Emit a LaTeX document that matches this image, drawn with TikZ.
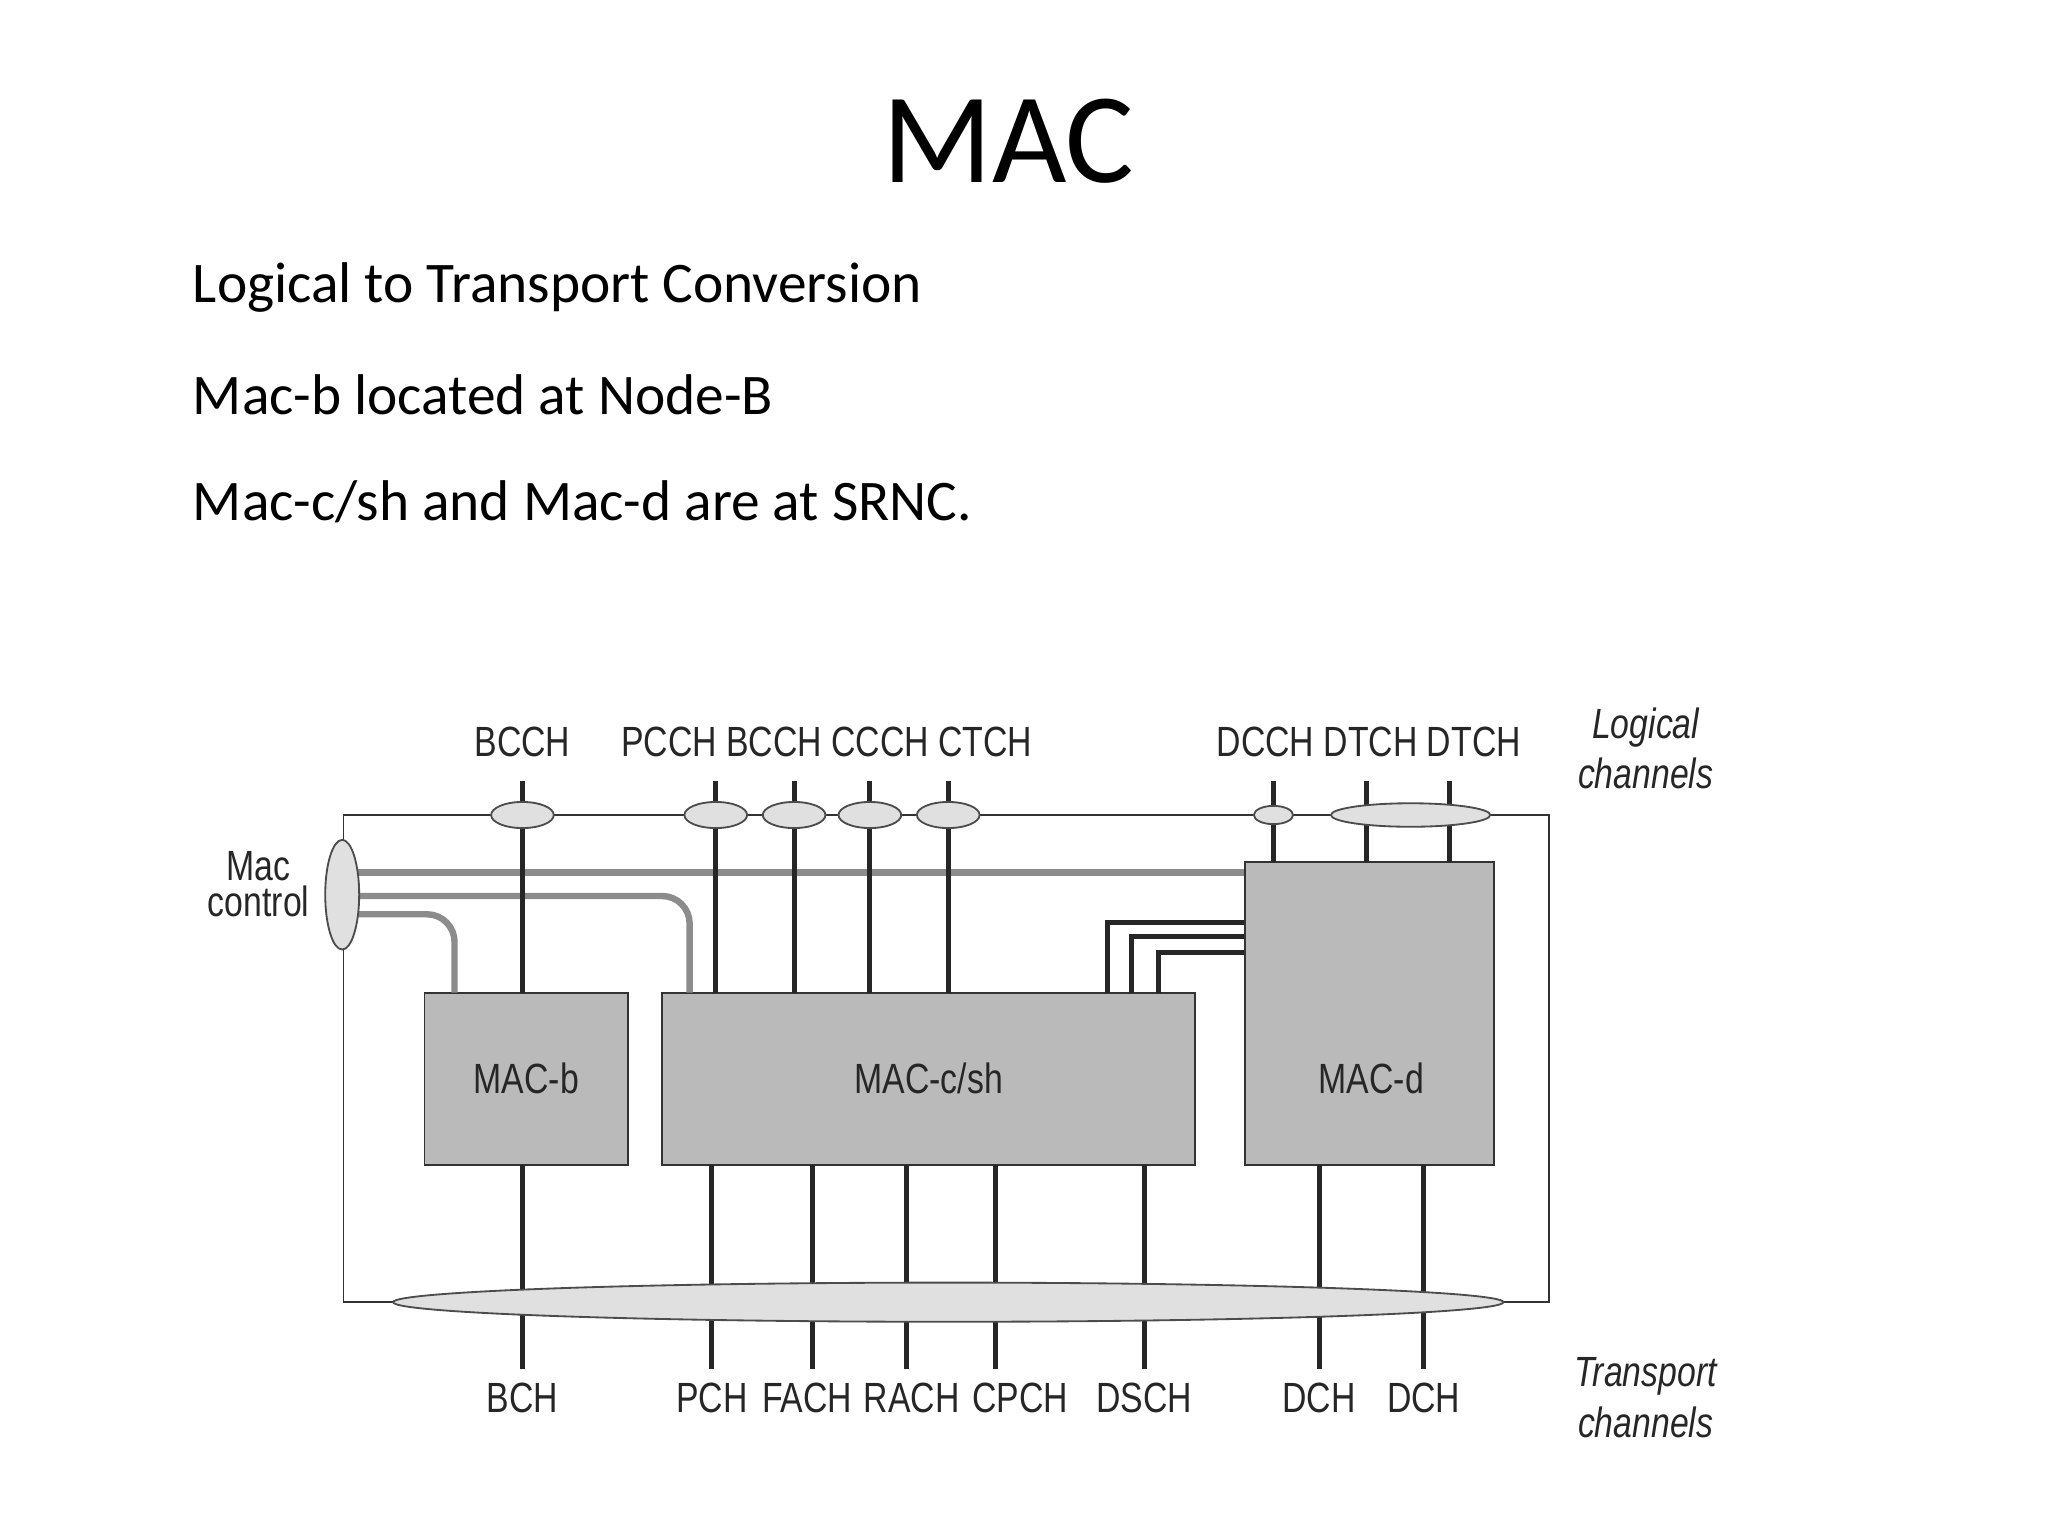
\documentclass[tikz,border=0pt]{standalone}
\usepackage{fontspec}
\setmainfont{Carlito}
\newfontfamily\arialfont{Liberation Sans}[FakeStretch=0.8]
\usetikzlibrary{positioning,calc,shapes.geometric}

\begin{document}
\begin{tikzpicture}[
    x=0.01cm, y=-0.01cm,
    % Style hộp MAC
    macbox/.style={draw=black!80, fill=black!27, thin},
    % Style kênh
    chan/.style={font=\arialfont\fontsize{9.2}{10}\selectfont, text=black!85},
    wire/.style={line width=1.1pt, black!85},
    gwire/.style={line width=1.4pt, black!45},
    oval/.style={ellipse, draw=black!70, fill=black!12, inner sep=0pt}
  ]
  \useasboundingbox (0,0) rectangle (1568,1176);

  % --- TIÊU ĐỀ ---
  \node[font=\fontsize{28}{32}\selectfont] (title) at (772,108) {MAC};
  \node[anchor=west, inner sep=0pt, font=\fontsize{12.5}{14}\selectfont] (l1) at (147,220) {Logical to Transport Conversion};
  \node[anchor=west, inner sep=0pt, font=\fontsize{12.5}{14}\selectfont] (l2) at (147,302) {Mac-b located at Node-B};
  \node[anchor=west, inner sep=0pt, font=\fontsize{12.5}{14}\selectfont] (l3) at (147,384) {Mac-c/sh and Mac-d are at SRNC.};

  % --- KHUNG NGOÀI ---
  \draw[black!80] (263,624) rectangle (1186,997);

  % --- HỘP MAC ---
  \node[macbox, minimum width=156*0.01cm, minimum height=132*0.01cm] (macb) at (403,826) {};
  \node[chan] at (macb) {MAC-b};
  \node[macbox, minimum width=408*0.01cm, minimum height=132*0.01cm] (maccsh) at (711,826) {};
  \node[chan] at (maccsh) {MAC-c/sh};
  \node[macbox, minimum width=191*0.01cm, minimum height=232*0.01cm] (macd) at (1048.5,776) {};
  \node[chan] at (1050,826) {MAC-d};

  % --- MAC CONTROL ---
  \draw[gwire] (270,668) -- (macd.west |- 0,668);
  \draw[gwire, rounded corners=6pt] (270,686) -- (528,686) -- (528,760);
  \draw[gwire, rounded corners=6pt] (270,700) -- (348,700) -- (348,760);
  \node[oval, minimum width=26*0.01cm, minimum height=84*0.01cm] (ctrl) at (262,685) {};
  \node[chan, align=center] (ctrllbl) at (198,677) {Mac\\[-2pt]control};

  % --- MAC-d -> MAC-c/sh ---
  \foreach \xx/\yy in {848/706, 866/717, 887/729}
    \draw[wire] (macd.west |- 0,\yy) -- (\xx,\yy) -- (\xx,760);

  % --- KÊNH LOGIC ---
  \foreach \xx in {400,548,608,666,726}
    \draw[wire] (\xx,598) -- (\xx,760);
  \foreach \xx in {975,1046,1110}
    \draw[wire] (\xx,598) -- (\xx,660);
  \foreach \xx in {400,548,608,666,726}
    \node[oval, minimum width=48*0.01cm, minimum height=20*0.01cm] (top\xx) at (\xx,624) {};
  \node[oval, minimum width=30*0.01cm, minimum height=14*0.01cm] (dcch) at (975,624) {};
  \node[oval, minimum width=122*0.01cm, minimum height=18*0.01cm] (dtch) at (1080,624) {};

  \node[chan] (bcch) at (400,568) {BCCH};
  \node[chan] (common) at (633,568) {PCCH BCCH CCCH CTCH};
  \node[chan] (ded) at (1048,568) {DCCH DTCH DTCH};
  \node[chan, align=center, font=\arialfont\itshape\fontsize{9.2}{11}\selectfont] (logl) at (1260,573) {Logical\\channels};

  % --- KÊNH TRUYỀN TẢI ---
  \foreach \xx in {400,545,622,694,762,876,1010,1090}
    \draw[wire] (\xx,892) -- (\xx,1048);
  \node[oval, minimum width=850*0.01cm, minimum height=30*0.01cm] (bot) at (726,997) {};
  \foreach \xx/\lbl in {400/BCH,545/PCH,618/FACH,698/RACH,781/CPCH,876/DSCH,1010/DCH,1090/DCH}
    \node[chan] (t\xx) at (\xx,1070) {\lbl};
  \node[chan, align=center, font=\arialfont\itshape\fontsize{9.2}{11}\selectfont] (trl) at (1260,1070) {Transport\\channels};
\end{tikzpicture}
\end{document}
